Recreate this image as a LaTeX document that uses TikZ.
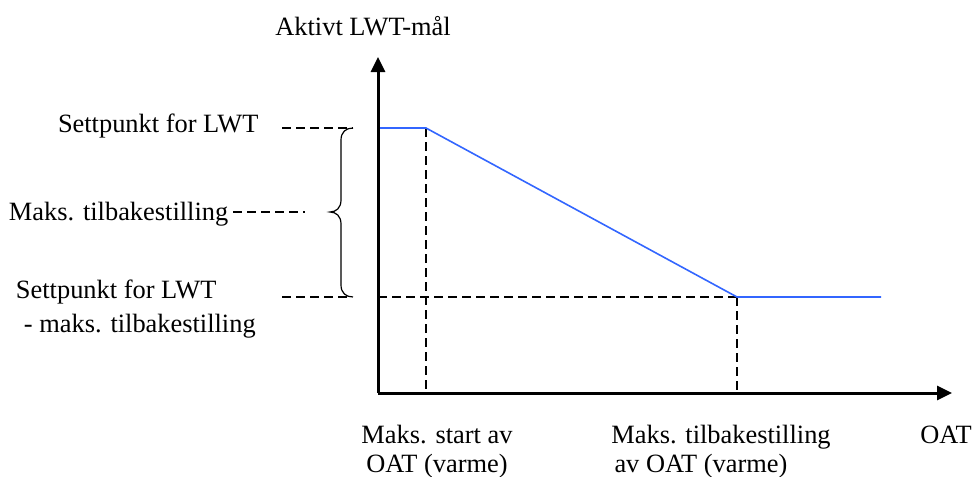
\documentclass[tikz,border=0pt]{standalone}
\usepackage{fontspec}
\setmainfont{Liberation Serif}
\usetikzlibrary{arrows.meta}
\definecolor{lineblue}{RGB}{51,102,255}
\begin{document}
\begin{tikzpicture}[x=0.5pt,y=-0.5pt,
  lbl/.style={inner sep=0pt, outer sep=0pt, font=\fontsize{13.2}{15}\selectfont},
  axisline/.style={line width=1.5pt, -{Triangle[length=7.5pt,width=7pt]}},
  guide/.style={line width=0.75pt, dash pattern=on 4.5pt off 2.5pt},
  curveline/.style={line width=0.8pt, draw=lineblue},
  bracestyle/.style={line width=0.6pt}]
\useasboundingbox (0,0) rectangle (976,477);

% key points
\coordinate (O) at (378,393);
\coordinate (Ytip) at (378,57);
\coordinate (Xtip) at (952,393);
\coordinate (P1) at (378,128);
\coordinate (P2) at (426,128);
\coordinate (P2b) at (426,393);
\coordinate (P3) at (737,297);
\coordinate (P3b) at (737,393);
\coordinate (P3a) at (378,297);
\coordinate (P4) at (881,297);

% guide line ends
\coordinate (g1a) at (282,128); \coordinate (g1b) at (353,128);
\coordinate (g2a) at (233,212); \coordinate (g2b) at (305,212);
\coordinate (g3a) at (282,297); \coordinate (g3b) at (347,297);

% dashed guides
\draw[guide] (g1a) -- (g1b);
\draw[guide] (g2a) -- (g2b);
\draw[guide] (g3a) -- (g3b);
\draw[guide] (P3a) -- (P3);
\draw[guide] (P2) -- (P2b);
\draw[guide] (P3) -- (P3b);

% brace
\draw[bracestyle] (353,128) .. controls (346,128) and (341,132) .. (341,140)
  -- (341,200) .. controls (341,208) and (336,212) .. (330,212)
  .. controls (336,212) and (341,216) .. (341,224)
  -- (341,285) .. controls (341,293) and (346,297) .. (353,297);

% curve
\draw[curveline] (P1) -- (P2) -- (P3) -- (P4);

% axes
\draw[axisline] (O) -- (Ytip);
\draw[axisline] (O) -- (Xtip);

% labels
\node[lbl, anchor=base] (title) at (363,35) {Aktivt LWT-mål};
\node[lbl, anchor=base west] (sp) at (58,132) {Settpunkt for LWT};
\node[lbl, anchor=base west] (mt) at (9,220) {Maks. tilbakestilling};
\node[lbl, anchor=base west] (sp2) at (16,298) {Settpunkt for LWT};
\node[lbl, anchor=base west] (sp2b) at (24,332) {- maks. tilbakestilling};
\node[lbl, anchor=base] (ms1) at (437,443) {Maks. start av};
\node[lbl, anchor=base] (ms2) at (437,472) {OAT (varme)};
\node[lbl, anchor=base] (mt1) at (721,443) {Maks. tilbakestilling};
\node[lbl, anchor=base] (mt2) at (701,472) {av OAT (varme)};
\node[lbl, anchor=base] (oat) at (946,443) {OAT};
\end{tikzpicture}
\end{document}
